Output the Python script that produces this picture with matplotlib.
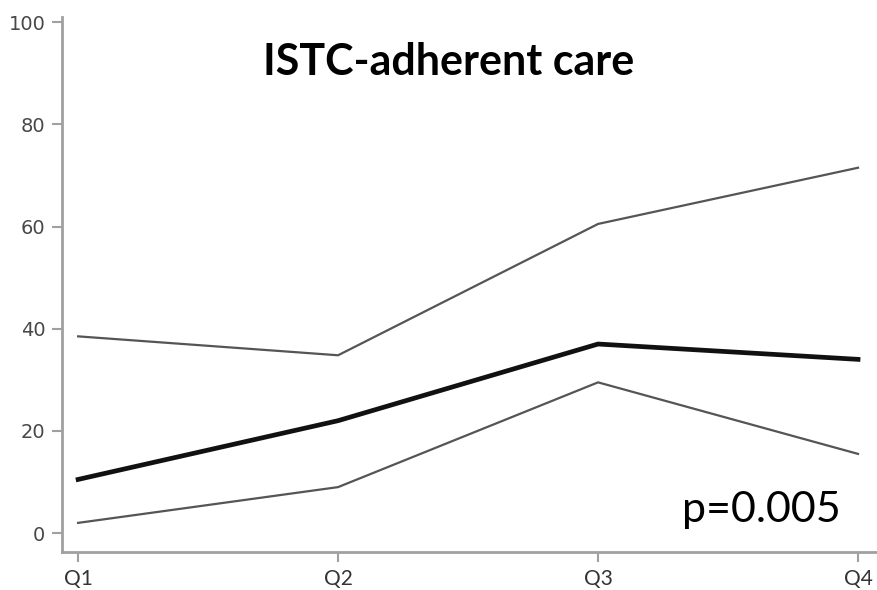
import matplotlib
matplotlib.use("Agg")
import matplotlib.pyplot as plt

quarters = ["Q1", "Q2", "Q3", "Q4"]
upper_ci = [38.5, 34.8, 60.5, 71.5]
estimate = [10.5, 22.0, 37.0, 34.0]
lower_ci = [2.0, 9.0, 29.5, 15.5]
y_ticks = [0, 20, 40, 60, 80, 100]

fig = plt.figure(figsize=(8.77, 5.90), dpi=100)
ax = fig.add_axes([62 / 877, 38 / 590, 815 / 877, 535 / 590])

x = list(range(len(quarters)))
ax.plot(x, upper_ci, color="#555555", lw=1.6, solid_joinstyle="round")
ax.plot(x, lower_ci, color="#555555", lw=1.6, solid_joinstyle="round")
ax.plot(x, estimate, color="#111111", lw=3.4, solid_joinstyle="round")

ax.set_xlim(-0.062, 3.073)
ax.set_ylim(-3.7, 101)

for side in ("top", "right"):
    ax.spines[side].set_visible(False)
for side in ("left", "bottom"):
    ax.spines[side].set_color("#a0a0a0")
    ax.spines[side].set_linewidth(2)

ax.set_yticks(y_ticks)
ax.set_yticklabels([str(v) for v in y_ticks], fontfamily="DejaVu Sans",
                   fontsize=14, color="#484848")
ax.set_xticks(x)
ax.set_xticklabels(quarters, fontfamily="Lato", fontsize=15, color="#333333")
ax.tick_params(axis="both", direction="out", length=7, width=1.5,
               color="#a0a0a0", pad=5)

ax.text(0.474, 0.916, "ISTC-adherent care", transform=ax.transAxes,
        ha="center", va="center", fontfamily="Lato", fontweight="bold",
        fontsize=31, color="black")
ax.text(0.955, 0.078, "p=0.005", transform=ax.transAxes,
        ha="right", va="center", fontfamily="Lato", fontsize=31,
        color="black")

fig.savefig("out.png", dpi=100)
